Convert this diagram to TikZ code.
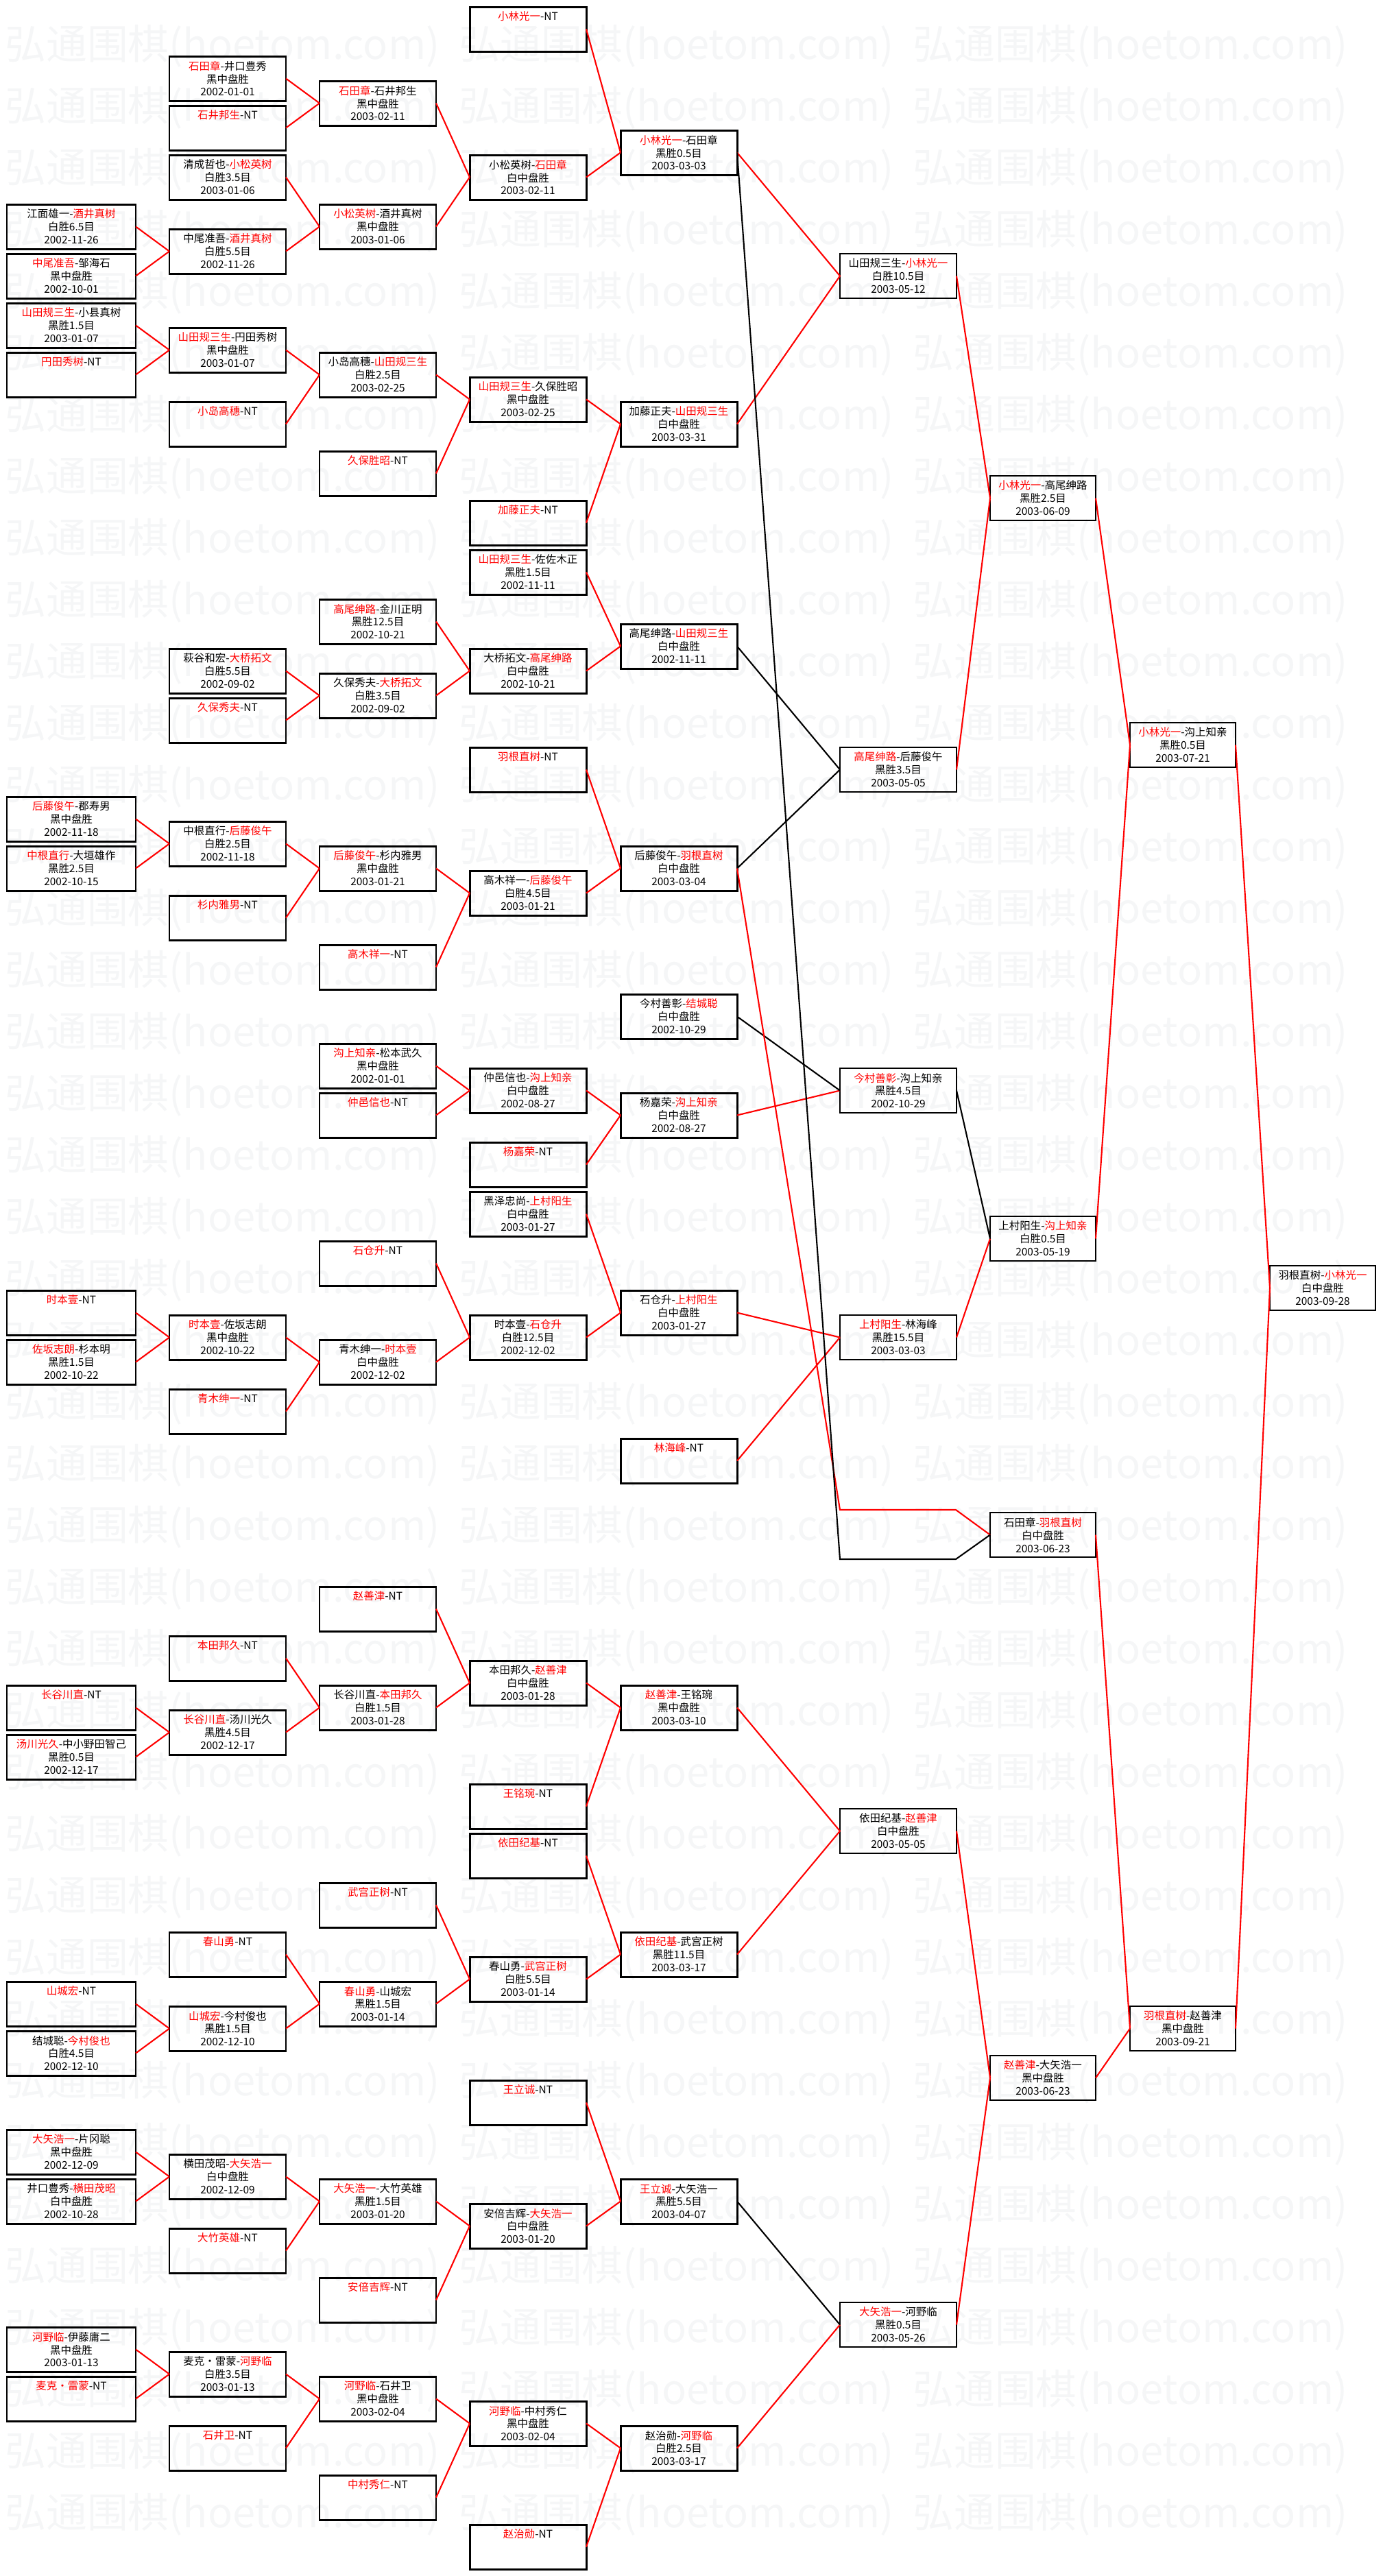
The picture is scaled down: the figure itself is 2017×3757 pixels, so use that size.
\documentclass[tikz,border=0pt]{standalone}
\usepackage{fontspec}
\newfontfamily\cjk{Noto Sans CJK SC}
\usepackage{tikz}
\usetikzlibrary{positioning,calc}
\definecolor{wred}{RGB}{255,0,0}
\definecolor{wmarkgray}{RGB}{245,246,247}
\newcommand{\wn}[1]{\textcolor{wred}{#1}}
\tikzset{
  gamebox/.style={draw=black,line width=0.85pt,anchor=north west,inner sep=0pt,outer sep=0pt,
    minimum width=17mm,minimum height=6.5mm,align=center,font=\cjk\fontsize{4.4}{5.4}\selectfont},
  widebox/.style={gamebox,minimum width=18.8mm},
  latebox/.style={gamebox,line width=0.7pt},
  finalbox/.style={gamebox,line width=0.7pt,minimum width=15.4mm},
  ntbox/.style={text depth=3.95mm},
  winline/.style={draw=wred,line width=0.6pt},
  loseline/.style={draw=black,line width=0.6pt},
  wmark/.style={anchor=west,inner sep=0pt,text=wmarkgray,font=\cjk\fontsize{17}{17}\selectfont}
}

\begin{document}
\begin{tikzpicture}[x=0.1mm,y=-0.1mm]
  \useasboundingbox (0,0) rectangle (2017,3757);

  % watermark
  \foreach \r in {0,...,40}{
    \foreach \c in {0,...,2}{
      \node[wmark] (wm-\r-\c) at ({7+662*\c},{67+90*\r}) {弘通围棋(hoetom.com)};
    }
  }

  % column A
  \node[widebox] (a8)  at (10,298)  {江面雄一-\wn{酒井真树}\\白胜6.5目\\2002-11-26};
  \node[widebox] (a10) at (10,370)  {\wn{中尾准吾}-邹海石\\黑中盘胜\\2002-10-01};
  \node[widebox] (a12) at (10,442)  {\wn{山田规三生}-小县真树\\黑胜1.5目\\2003-01-07};
  \node[widebox,ntbox] (a14) at (10,514) {\wn{円田秀树}-NT};
  \node[widebox] (a32) at (10,1162) {\wn{后藤俊午}-郡寿男\\黑中盘胜\\2002-11-18};
  \node[widebox] (a34) at (10,1234) {\wn{中根直行}-大垣雄作\\黑胜2.5目\\2002-10-15};
  \node[widebox,ntbox] (a52) at (10,1882) {\wn{时本壹}-NT};
  \node[widebox] (a54) at (10,1954) {\wn{佐坂志朗}-杉本明\\黑胜1.5目\\2002-10-22};
  \node[widebox,ntbox] (a68) at (10,2458) {\wn{长谷川直}-NT};
  \node[widebox] (a70) at (10,2530) {\wn{汤川光久}-中小野田智己\\黑胜0.5目\\2002-12-17};
  \node[widebox,ntbox] (a80) at (10,2890) {\wn{山城宏}-NT};
  \node[widebox] (a82) at (10,2962) {结城聪-\wn{今村俊也}\\白胜4.5目\\2002-12-10};
  \node[widebox] (a86) at (10,3106) {\wn{大矢浩一}-片冈聪\\黑中盘胜\\2002-12-09};
  \node[widebox] (a88) at (10,3178) {井口豊秀-\wn{横田茂昭}\\白中盘胜\\2002-10-28};
  \node[widebox] (a94) at (10,3394) {\wn{河野临}-伊藤庸二\\黑中盘胜\\2003-01-13};
  \node[widebox,ntbox] (a96) at (10,3466) {\wn{麦克・雷蒙}-NT};

  % column B
  \node[gamebox] (b2)  at (247,82)   {\wn{石田章}-井口豊秀\\黑中盘胜\\2002-01-01};
  \node[gamebox,ntbox] (b4) at (247,154) {\wn{石井邦生}-NT};
  \node[gamebox] (b6)  at (247,226)  {清成哲也-\wn{小松英树}\\白胜3.5目\\2003-01-06};
  \node[gamebox] (b9)  at (247,334)  {中尾准吾-\wn{酒井真树}\\白胜5.5目\\2002-11-26};
  \node[gamebox] (b13) at (247,478)  {\wn{山田规三生}-円田秀树\\黑中盘胜\\2003-01-07};
  \node[gamebox,ntbox] (b16) at (247,586) {\wn{小岛高穗}-NT};
  \node[gamebox] (b26) at (247,946)  {萩谷和宏-\wn{大桥拓文}\\白胜5.5目\\2002-09-02};
  \node[gamebox,ntbox] (b28) at (247,1018) {\wn{久保秀夫}-NT};
  \node[gamebox] (b33) at (247,1198) {中根直行-\wn{后藤俊午}\\白胜2.5目\\2002-11-18};
  \node[gamebox,ntbox] (b36) at (247,1306) {\wn{杉内雅男}-NT};
  \node[gamebox] (b53) at (247,1918) {\wn{时本壹}-佐坂志朗\\黑中盘胜\\2002-10-22};
  \node[gamebox,ntbox] (b56) at (247,2026) {\wn{青木绅一}-NT};
  \node[gamebox,ntbox] (b66) at (247,2386) {\wn{本田邦久}-NT};
  \node[gamebox] (b69) at (247,2494) {\wn{长谷川直}-汤川光久\\黑胜4.5目\\2002-12-17};
  \node[gamebox,ntbox] (b78) at (247,2818) {\wn{春山勇}-NT};
  \node[gamebox] (b81) at (247,2926) {\wn{山城宏}-今村俊也\\黑胜1.5目\\2002-12-10};
  \node[gamebox] (b87) at (247,3142) {横田茂昭-\wn{大矢浩一}\\白中盘胜\\2002-12-09};
  \node[gamebox,ntbox] (b90) at (247,3250) {\wn{大竹英雄}-NT};
  \node[gamebox] (b95) at (247,3430) {麦克・雷蒙-\wn{河野临}\\白胜3.5目\\2003-01-13};
  \node[gamebox,ntbox] (b98) at (247,3538) {\wn{石井卫}-NT};

  % column C
  \node[gamebox] (c3)  at (466,118)  {\wn{石田章}-石井邦生\\黑中盘胜\\2003-02-11};
  \node[gamebox] (c8)  at (466,298)  {\wn{小松英树}-酒井真树\\黑中盘胜\\2003-01-06};
  \node[gamebox] (c14) at (466,514)  {小岛高穗-\wn{山田规三生}\\白胜2.5目\\2003-02-25};
  \node[gamebox,ntbox] (c18) at (466,658) {\wn{久保胜昭}-NT};
  \node[gamebox] (c24) at (466,874)  {\wn{高尾绅路}-金川正明\\黑胜12.5目\\2002-10-21};
  \node[gamebox] (c27) at (466,982)  {久保秀夫-\wn{大桥拓文}\\白胜3.5目\\2002-09-02};
  \node[gamebox] (c34) at (466,1234) {\wn{后藤俊午}-杉内雅男\\黑中盘胜\\2003-01-21};
  \node[gamebox,ntbox] (c38) at (466,1378) {\wn{高木祥一}-NT};
  \node[gamebox] (c42) at (466,1522) {\wn{沟上知亲}-松本武久\\黑中盘胜\\2002-01-01};
  \node[gamebox,ntbox] (c44) at (466,1594) {\wn{仲邑信也}-NT};
  \node[gamebox,ntbox] (c50) at (466,1810) {\wn{石仓升}-NT};
  \node[gamebox] (c54) at (466,1954) {青木绅一-\wn{时本壹}\\白中盘胜\\2002-12-02};
  \node[gamebox,ntbox] (c64) at (466,2314) {\wn{赵善津}-NT};
  \node[gamebox] (c68) at (466,2458) {长谷川直-\wn{本田邦久}\\白胜1.5目\\2003-01-28};
  \node[gamebox,ntbox] (c76) at (466,2746) {\wn{武宫正树}-NT};
  \node[gamebox] (c80) at (466,2890) {\wn{春山勇}-山城宏\\黑胜1.5目\\2003-01-14};
  \node[gamebox] (c88) at (466,3178) {\wn{大矢浩一}-大竹英雄\\黑胜1.5目\\2003-01-20};
  \node[gamebox,ntbox] (c92) at (466,3322) {\wn{安倍吉辉}-NT};
  \node[gamebox] (c96) at (466,3466) {\wn{河野临}-石井卫\\黑中盘胜\\2003-02-04};
  \node[gamebox,ntbox] (c100) at (466,3610) {\wn{中村秀仁}-NT};

  % column D
  \node[gamebox,ntbox] (d0) at (685,10) {\wn{小林光一}-NT};
  \node[gamebox] (d6)  at (685,226)  {小松英树-\wn{石田章}\\白中盘胜\\2003-02-11};
  \node[gamebox] (d15) at (685,550)  {\wn{山田规三生}-久保胜昭\\黑中盘胜\\2003-02-25};
  \node[gamebox,ntbox] (d20) at (685,730) {\wn{加藤正夫}-NT};
  \node[gamebox] (d22) at (685,802)  {\wn{山田规三生}-佐佐木正\\黑胜1.5目\\2002-11-11};
  \node[gamebox] (d26) at (685,946)  {大桥拓文-\wn{高尾绅路}\\白中盘胜\\2002-10-21};
  \node[gamebox,ntbox] (d30) at (685,1090) {\wn{羽根直树}-NT};
  \node[gamebox] (d35) at (685,1270) {高木祥一-\wn{后藤俊午}\\白胜4.5目\\2003-01-21};
  \node[gamebox] (d43) at (685,1558) {仲邑信也-\wn{沟上知亲}\\白中盘胜\\2002-08-27};
  \node[gamebox,ntbox] (d46) at (685,1666) {\wn{杨嘉荣}-NT};
  \node[gamebox] (d48) at (685,1738) {黑泽忠尚-\wn{上村阳生}\\白中盘胜\\2003-01-27};
  \node[gamebox] (d53) at (685,1918) {时本壹-\wn{石仓升}\\白胜12.5目\\2002-12-02};
  \node[gamebox] (d67) at (685,2422) {本田邦久-\wn{赵善津}\\白中盘胜\\2003-01-28};
  \node[gamebox,ntbox] (d72) at (685,2602) {\wn{王铭琬}-NT};
  \node[gamebox,ntbox] (d74) at (685,2674) {\wn{依田纪基}-NT};
  \node[gamebox] (d79) at (685,2854) {春山勇-\wn{武宫正树}\\白胜5.5目\\2003-01-14};
  \node[gamebox,ntbox] (d84) at (685,3034) {\wn{王立诚}-NT};
  \node[gamebox] (d89) at (685,3214) {安倍吉辉-\wn{大矢浩一}\\白中盘胜\\2003-01-20};
  \node[gamebox] (d97) at (685,3502) {\wn{河野临}-中村秀仁\\黑中盘胜\\2003-02-04};
  \node[gamebox,ntbox] (d102) at (685,3682) {\wn{赵治勋}-NT};

  % column E
  \node[gamebox] (e5)  at (905,190)  {\wn{小林光一}-石田章\\黑胜0.5目\\2003-03-03};
  \node[gamebox] (e16) at (905,586)  {加藤正夫-\wn{山田规三生}\\白中盘胜\\2003-03-31};
  \node[gamebox] (e25) at (905,910)  {高尾绅路-\wn{山田规三生}\\白中盘胜\\2002-11-11};
  \node[gamebox] (e34) at (905,1234) {后藤俊午-\wn{羽根直树}\\白中盘胜\\2003-03-04};
  \node[gamebox] (e40) at (905,1450) {今村善彰-\wn{结城聪}\\白中盘胜\\2002-10-29};
  \node[gamebox] (e44) at (905,1594) {杨嘉荣-\wn{沟上知亲}\\白中盘胜\\2002-08-27};
  \node[gamebox] (e52) at (905,1882) {石仓升-\wn{上村阳生}\\白中盘胜\\2003-01-27};
  \node[gamebox,ntbox] (e58) at (905,2098) {\wn{林海峰}-NT};
  \node[gamebox] (e68) at (905,2458) {\wn{赵善津}-王铭琬\\黑中盘胜\\2003-03-10};
  \node[gamebox] (e78) at (905,2818) {\wn{依田纪基}-武宫正树\\黑胜11.5目\\2003-03-17};
  \node[gamebox] (e88) at (905,3178) {\wn{王立诚}-大矢浩一\\黑胜5.5目\\2003-04-07};
  \node[gamebox] (e98) at (905,3538) {赵治勋-\wn{河野临}\\白胜2.5目\\2003-03-17};

  % column F
  \node[latebox] (f10) at (1225,370)  {山田规三生-\wn{小林光一}\\白胜10.5目\\2003-05-12};
  \node[latebox] (f30) at (1225,1090) {\wn{高尾绅路}-后藤俊午\\黑胜3.5目\\2003-05-05};
  \node[latebox] (f43) at (1225,1558) {\wn{今村善彰}-沟上知亲\\黑胜4.5目\\2002-10-29};
  \node[latebox] (f53) at (1225,1918) {\wn{上村阳生}-林海峰\\黑胜15.5目\\2003-03-03};
  \node[latebox] (f73) at (1225,2638) {依田纪基-\wn{赵善津}\\白中盘胜\\2003-05-05};
  \node[latebox] (f93) at (1225,3358) {\wn{大矢浩一}-河野临\\黑胜0.5目\\2003-05-26};

  % columns G, H, I
  \node[finalbox] (g19) at (1444,694)  {\wn{小林光一}-高尾绅路\\黑胜2.5目\\2003-06-09};
  \node[finalbox] (g49) at (1444,1774) {上村阳生-\wn{沟上知亲}\\白胜0.5目\\2003-05-19};
  \node[finalbox] (g61) at (1444,2206) {石田章-\wn{羽根直树}\\白中盘胜\\2003-06-23};
  \node[finalbox] (g83) at (1444,2998) {\wn{赵善津}-大矢浩一\\黑中盘胜\\2003-06-23};
  \node[finalbox] (h29) at (1648,1054) {\wn{小林光一}-沟上知亲\\黑胜0.5目\\2003-07-21};
  \node[finalbox] (h81) at (1648,2926) {\wn{羽根直树}-赵善津\\黑中盘胜\\2003-09-21};
  \node[finalbox] (i51) at (1852,1846) {羽根直树-\wn{小林光一}\\白中盘胜\\2003-09-28};

  % winners moving on
  \foreach \s/\t in {d0/e5,d6/e5,c3/d6,c8/d6,b2/c3,b4/c3,b6/c8,b9/c8,a8/b9,a10/b9,
      a12/b13,a14/b13,b13/c14,b16/c14,c14/d15,c18/d15,d15/e16,d20/e16,
      d22/e25,d26/e25,c24/d26,c27/d26,b26/c27,b28/c27,
      d30/e34,d35/e34,c34/d35,c38/d35,b33/c34,b36/c34,a32/b33,a34/b33,
      c42/d43,c44/d43,d43/e44,d46/e44,d48/e52,d53/e52,c50/d53,c54/d53,
      b53/c54,b56/c54,a52/b53,a54/b53,
      c64/d67,c68/d67,d67/e68,d72/e68,b66/c68,b69/c68,a68/b69,a70/b69,
      d74/e78,d79/e78,c76/d79,c80/d79,b78/c80,b81/c80,a80/b81,a82/b81,
      d84/e88,d89/e88,c88/d89,c92/d89,b87/c88,b90/c88,a86/b87,a88/b87,
      d97/e98,d102/e98,c96/d97,c100/d97,b95/c96,b98/c96,a94/b95,a96/b95,
      e5/f10,e16/f10,e44/f43,e52/f53,e58/f53,e68/f73,e78/f73,e98/f93,
      f10/g19,f30/g19,f53/g49,f73/g83,f93/g83,
      g19/h29,g49/h29,g61/h81,g83/h81,h29/i51,h81/i51}{
    \draw[winline] (\s.east) -- (\t.west);
  }

  % losers moving on
  \foreach \s/\t in {e25/f30,e34/f30,e40/f43,e88/f93,f43/g49}{
    \draw[loseline] (\s.east) -- (\t.west);
  }

  \coordinate (ph-tl) at (1225,2202);
  \coordinate (ph-tr) at (1394,2202);
  \coordinate (ph-bl) at (1225,2274);
  \coordinate (ph-br) at (1394,2274);
  \draw[winline] (e34.east) -- (ph-tl) -- (ph-tr) -- (g61.west);
  \draw[loseline] (e5.east) -- (ph-bl) -- (ph-br) -- (g61.west);
\end{tikzpicture}
\end{document}
